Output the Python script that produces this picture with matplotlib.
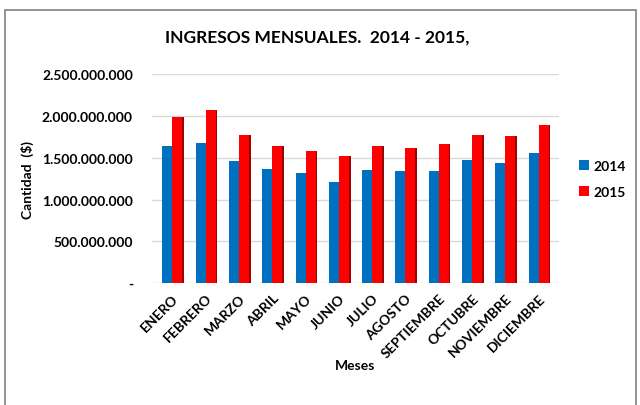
import numpy as np
import matplotlib.pyplot as plt
from matplotlib.patches import Rectangle
from matplotlib.ticker import FuncFormatter

plt.rcParams['font.family'] = ['Lato', 'DejaVu Sans']
plt.rcParams['font.weight'] = 'bold'
plt.rcParams['axes.labelweight'] = 'bold'

months = ['ENERO', 'FEBRERO', 'MARZO', 'ABRIL', 'MAYO', 'JUNIO', 'JULIO',
          'AGOSTO', 'SEPTIEMBRE', 'OCTUBRE', 'NOVIEMBRE', 'DICIEMBRE']
ingresos_2014 = [1635e6, 1678e6, 1456e6, 1367e6, 1319e6, 1208e6, 1348e6,
                 1336e6, 1336e6, 1475e6, 1435e6, 1555e6]
ingresos_2015 = [1985e6, 2066e6, 1767e6, 1639e6, 1579e6, 1519e6, 1639e6,
                 1618e6, 1659e6, 1767e6, 1758e6, 1886e6]
y_ticks = [0, 500e6, 1000e6, 1500e6, 2000e6, 2500e6]


def fmt_pesos(v, pos):
    if v == 0:
        return '-'
    return f'{int(v):,}'.replace(',', '.')


fig = plt.figure(figsize=(6.4, 4.06), dpi=100)
# outer frame of the chart
fig.patches.append(Rectangle((0.008, -0.01), 0.985, 0.983, transform=fig.transFigure,
                             fill=False, edgecolor='#808080', linewidth=1.2))

ax = fig.add_axes([0.238, 0.30, 0.635, 0.515])
x = np.arange(len(months))
w = 0.3

# side faces for a bit of 3D look
ax.bar(x + w / 2 + 0.17, ingresos_2015, 0.06, color='#a00000', zorder=2)
ax.bar(x - w / 2, ingresos_2014, w, color='#0070C0', label='2014', zorder=3)
ax.bar(x + w / 2, ingresos_2015, w, color='#FF0000', label='2015', zorder=3)

ax.set_ylim(0, 2500e6)
ax.set_xlim(-0.6, len(months) - 0.4)
ax.set_yticks(y_ticks)
ax.yaxis.set_major_formatter(FuncFormatter(fmt_pesos))
ax.set_xticks(x)
ax.set_xticklabels(months, rotation=45, ha='right', rotation_mode='anchor', fontsize=10)
ax.tick_params(axis='y', labelsize=10, length=0, pad=14)
ax.tick_params(axis='x', length=0, pad=6)
ax.grid(axis='y', color='#d9d9d9', linewidth=1, zorder=0)
ax.set_axisbelow(True)
for s in ax.spines.values():
    s.set_visible(False)

ax.set_ylabel('Cantidad  ($)', fontsize=10, labelpad=6)
ax.set_xlabel('Meses', fontsize=10, labelpad=0)

fig.text(0.495, 0.908, 'INGRESOS MENSUALES.  2014 - 2015,', ha='center', va='center',
         fontsize=12.5)

ax.legend(loc='center left', bbox_to_anchor=(1.02, 0.5), frameon=False, fontsize=10,
          handlelength=0.7, handleheight=0.7, handletextpad=0.3, labelspacing=1.0)

fig.savefig('out.png', dpi=100)
